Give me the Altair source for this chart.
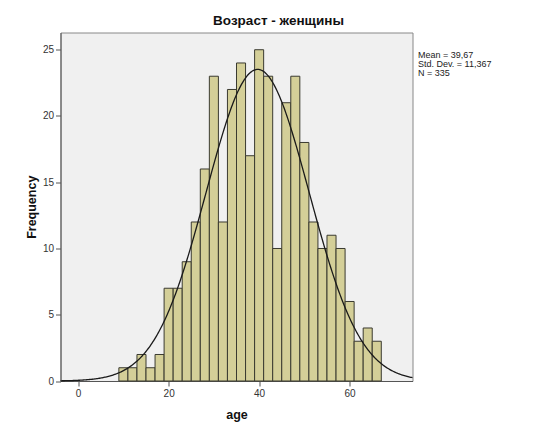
import altair as alt
import pandas as pd

# ---- data ----
bin_start = [9, 11, 13, 15, 17, 19, 21, 23, 25, 27, 29, 31, 33, 35, 37,
             39, 41, 43, 45, 47, 49, 51, 53, 55, 57, 59, 61, 63, 65]
bin_width = 2
counts = [1, 1, 2, 1, 2, 7, 7, 9, 12, 16, 23, 12, 22, 24, 17,
          25, 23, 10, 21, 23, 18, 12, 10, 11, 10, 6, 3, 4, 3]
mean_age = 39.67
std_age = 11.367
n_total = 335
x_ticks = [0, 20, 40, 60]
y_ticks = [0, 5, 10, 15, 20, 25]
title_text = "Возраст - женщины"
stats_lines = ["Mean = 39,67", "Std. Dev. = 11,367", "N = 335"]

FONT = "Liberation Sans"
X_DOMAIN = [-3.9, 73.9]
Y_DOMAIN = [0, 26.3]
W, H = 352, 348.5

bars_df = pd.DataFrame({
    "start": bin_start,
    "end": [s + bin_width for s in bin_start],
    "count": counts,
})

x_scale = alt.Scale(domain=X_DOMAIN, nice=False, zero=False)
y_scale = alt.Scale(domain=Y_DOMAIN, nice=False, zero=False)

x_axis = alt.Axis(values=x_ticks, title="age", grid=False,
                  titleFont=FONT, titleFontSize=12.5, titleFontWeight="bold",
                  titleColor="#111", titleX=W / 2, titleY=33,
                  titleBaseline="middle", titleAlign="center",
                  labelFont=FONT, labelFontSize=10, labelColor="#333",
                  labelPadding=2, tickSize=5, tickColor="#555",
                  domainColor="#555")
y_axis = alt.Axis(values=y_ticks, title="Frequency", grid=False,
                  titleFont=FONT, titleFontSize=12.5, titleFontWeight="bold",
                  titleColor="#111", titleX=-29.5, titleY=H / 2,
                  titleAngle=270, titleBaseline="middle", titleAlign="center",
                  labelFont=FONT, labelFontSize=10, labelColor="#333",
                  labelPadding=2, tickSize=5, tickColor="#555",
                  domainColor="#555")

bars = alt.Chart(bars_df).mark_rect(
    fill="#d4cf98", stroke="#3a3a30", strokeWidth=1
).encode(
    x=alt.X("start:Q", scale=x_scale, axis=x_axis, title="age"),
    x2="end:Q",
    y=alt.Y("count:Q", scale=y_scale, axis=y_axis, title="Frequency"),
    y2=alt.datum(0),
)

scale_factor = n_total * bin_width
curve = alt.Chart(alt.sequence(X_DOMAIN[0], X_DOMAIN[1] + 0.1, 0.2, as_="age")).transform_calculate(
    freq=f"{scale_factor}/({std_age}*sqrt(2*PI))*exp(-0.5*pow((datum.age-{mean_age})/{std_age},2))"
).mark_line(color="#1a1a1a", strokeWidth=1.3).encode(
    x=alt.X("age:Q", scale=x_scale, axis=x_axis, title="age"),
    y=alt.Y("freq:Q", scale=y_scale, axis=y_axis, title="Frequency"),
)

one = pd.DataFrame({"k": [0]})
title = alt.Chart(one).mark_text(
    text=title_text, font=FONT, fontSize=13.5, fontWeight="bold",
    color="#111", align="center", baseline="middle"
).encode(x=alt.value(218), y=alt.value(-11.8))

stats = alt.Chart(one).mark_text(
    text=stats_lines, font=FONT, fontSize=9, lineHeight=9,
    color="#222", align="left", baseline="middle"
).encode(x=alt.value(357.5), y=alt.value(22.3))

chart = alt.layer(bars, curve, title, stats).properties(
    width=W, height=H,
    autosize=alt.AutoSizeParams(type="none"),
    padding={"left": 52.5, "top": 24.5, "right": 115, "bottom": 44},
    background="white",
).configure_view(
    fill="#f0f0f0", stroke="#888888", strokeWidth=1
)

chart.save("out.html", embed_options={"renderer": "svg", "actions": False})
